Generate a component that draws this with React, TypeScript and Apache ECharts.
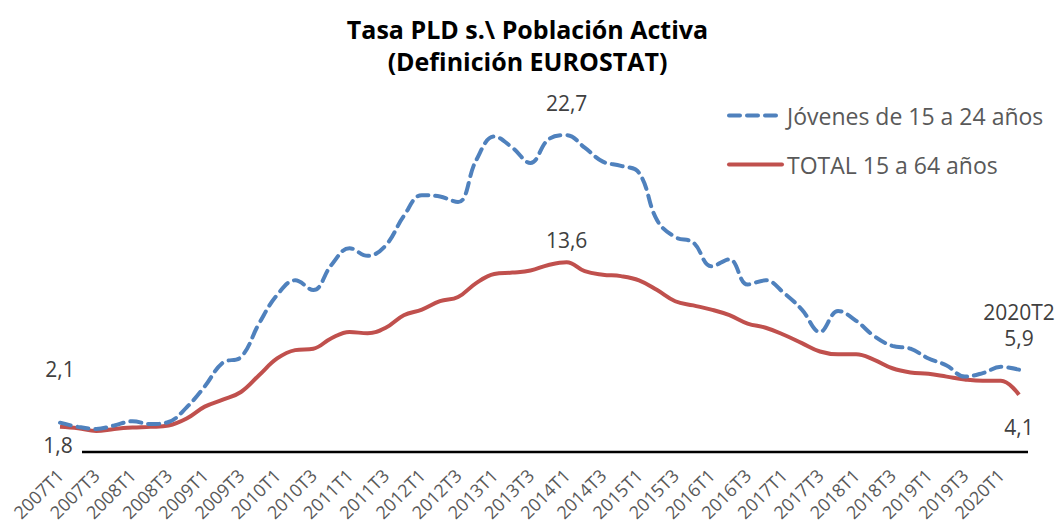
import React, { useEffect, useRef } from "react";
import * as echarts from "echarts";

const years = [2007, 2008, 2009, 2010, 2011, 2012, 2013, 2014, 2015, 2016, 2017, 2018, 2019, 2020];
const categories: string[] = [];
years.forEach((y) => {
  for (let q = 1; q <= 4; q++) {
    if (y === 2020 && q > 2) break;
    categories.push(`${y}T${q}`);
  }
});

const youthLabel = "Jóvenes de 15 a 24 años";
const totalLabel = "TOTAL 15 a 64 años";

const youth = [
  2.1, 1.8, 1.65, 1.9, 2.2, 2.0, 2.15, 3.2, 4.7, 6.4, 6.8, 9.2,
  11.25, 12.3, 11.6, 13.4, 14.6, 14.05, 14.8, 16.9, 18.4, 18.3, 17.9, 20.9,
  22.6, 21.8, 20.7, 22.4, 22.7, 21.8, 20.8, 20.5, 20.0, 16.6, 15.4, 15.0,
  13.3, 13.8, 12.0, 12.3, 11.4, 10.2, 8.6, 10.1, 9.4, 8.3, 7.6, 7.4,
  6.7, 6.2, 5.4, 5.65, 6.1, 5.9,
];

const total = [
  1.8, 1.7, 1.5, 1.65, 1.75, 1.8, 1.9, 2.4, 3.25, 3.75, 4.3, 5.5,
  6.7, 7.3, 7.4, 8.15, 8.6, 8.5, 8.9, 9.8, 10.2, 10.8, 11.1, 12.1,
  12.75, 12.85, 13.0, 13.4, 13.6, 12.95, 12.7, 12.6, 12.3, 11.6, 10.8, 10.5,
  10.2, 9.8, 9.2, 8.9, 8.4, 7.8, 7.2, 7.0, 7.0, 6.6, 6.0, 5.7,
  5.6, 5.4, 5.2, 5.1, 5.1, 4.1,
];

const fmt = (v: number) => String(v).replace(".", ",");
const FONT = "'Open Sans', 'DejaVu Sans', sans-serif";
const BLUE = "#4F81BD";
const RED = "#C0504D";
const LABEL_COLOR = "#404040";

export default function App() {
  const ref = useRef<HTMLDivElement>(null);

  useEffect(() => {
    document.body.style.margin = "0";
    if (!ref.current) return;
    const chart = echarts.init(ref.current, undefined, { renderer: "svg" });
    const last = categories.length - 1;
    const peakIdx = categories.indexOf("2014T1");

    const mpLabel = (extra: any) => ({
      show: true,
      color: LABEL_COLOR,
      fontSize: 21,
      fontFamily: FONT,
      ...extra,
    });

    chart.setOption({
      animation: false,
      backgroundColor: "#ffffff",
      title: {
        text: "Tasa PLD s.\\ Población Activa\n(Definición EUROSTAT)",
        left: "center",
        top: 8,
        textStyle: {
          fontFamily: FONT,
          fontWeight: "bold",
          fontSize: 25,
          lineHeight: 32,
          color: "#000000",
        },
      },
      legend: {
        orient: "vertical",
        left: 722,
        top: 97,
        itemWidth: 53,
        itemHeight: 14,
        itemGap: 22,
        data: [youthLabel, totalLabel],
        itemStyle: { opacity: 0 },
        lineStyle: { width: 4, cap: "round" },
        textStyle: {
          fontFamily: FONT,
          fontSize: 23,
          lineHeight: 27,
          color: "#595959",
        },
      },
      grid: { left: 60, right: 36, top: 103, bottom: 76 },
      xAxis: {
        type: "category",
        data: categories,
        boundaryGap: false,
        axisLine: { show: false },
        axisTick: { show: false },
        axisLabel: {
          interval: 1,
          rotate: 45,
          margin: 20,
          fontFamily: FONT,
          fontSize: 18,
          color: "#595959",
        },
      },
      yAxis: {
        type: "value",
        min: 0,
        max: 25,
        show: false,
        splitLine: { show: false },
      },
      graphic: [
        {
          type: "line",
          shape: { x1: 82, y1: 452, x2: 1028, y2: 452 },
          style: { stroke: "#000000", lineWidth: 2.5 },
          silent: true,
        },
      ],
      series: [
        {
          name: youthLabel,
          type: "line",
          data: youth,
          smooth: 0.4,
          symbol: "none",
          lineStyle: { color: BLUE, width: 4, type: [11, 7], cap: "round" },
          itemStyle: { color: BLUE },
          z: 3,
          markPoint: {
            symbol: "circle",
            symbolSize: 2,
            itemStyle: { color: "rgba(0,0,0,0)" },
            data: [
              {
                coord: [categories[0], youth[0]],
                value: youth[0],
                label: mpLabel({ position: "top", distance: 42, formatter: fmt(youth[0]) }),
              },
              {
                coord: [categories[peakIdx], youth[peakIdx]],
                value: youth[peakIdx],
                label: mpLabel({ position: "top", distance: 21, formatter: fmt(youth[peakIdx]) }),
              },
              {
                coord: [categories[last], youth[last]],
                value: youth[last],
                label: mpLabel({
                  position: "top",
                  distance: 18,
                  lineHeight: 26,
                  formatter: `${categories[last]}\n${fmt(youth[last])}`,
                }),
              },
            ],
          },
        },
        {
          name: totalLabel,
          type: "line",
          data: total,
          smooth: 0.4,
          symbol: "none",
          lineStyle: { color: RED, width: 4 },
          itemStyle: { color: RED },
          z: 2,
          markPoint: {
            symbol: "circle",
            symbolSize: 2,
            itemStyle: { color: "rgba(0,0,0,0)" },
            data: [
              {
                coord: [categories[0], total[0]],
                value: total[0],
                label: mpLabel({ position: "bottom", distance: 7, offset: [-2, 0], formatter: fmt(total[0]) }),
              },
              {
                coord: [categories[peakIdx], total[peakIdx]],
                value: total[peakIdx],
                label: mpLabel({ position: "top", distance: 11, formatter: fmt(total[peakIdx]) }),
              },
              {
                coord: [categories[last], total[last]],
                value: total[last],
                label: mpLabel({ position: "bottom", distance: 21, formatter: fmt(total[last]) }),
              },
            ],
          },
        },
      ],
    });

    return () => chart.dispose();
  }, []);

  return <div ref={ref} style={{ width: 1055, height: 528 }} />;
}
